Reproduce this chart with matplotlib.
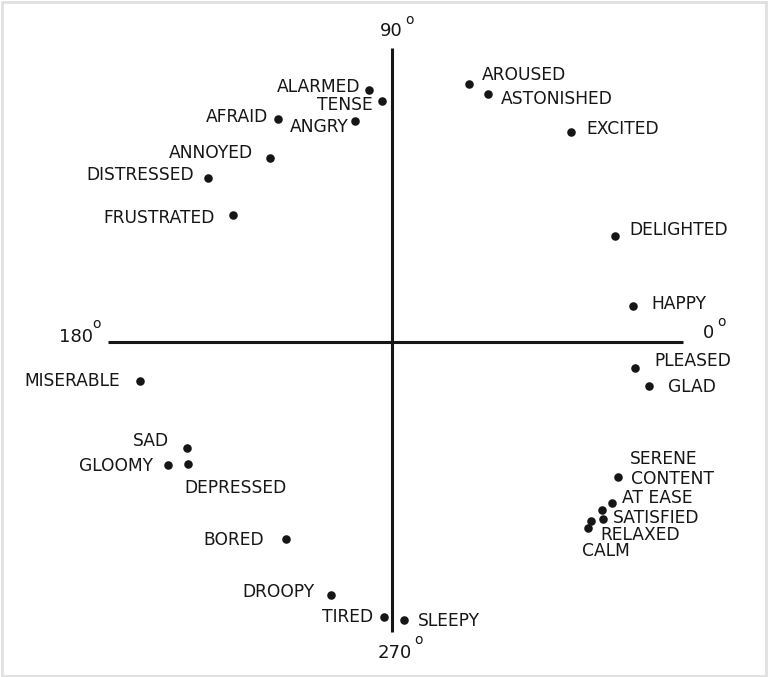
import matplotlib
matplotlib.use("Agg")
import matplotlib.pyplot as plt
from matplotlib.patches import Rectangle

# ================= data: affect words on the pleasure / arousal plane =================
words = ['ALARMED', 'TENSE', 'AFRAID', 'ANGRY', 'ANNOYED', 'DISTRESSED', 'FRUSTRATED',
         'AROUSED', 'ASTONISHED', 'EXCITED', 'DELIGHTED', 'HAPPY', 'PLEASED', 'GLAD',
         'SERENE', 'CONTENT', 'AT EASE', 'SATISFIED', 'RELAXED', 'CALM',
         'MISERABLE', 'SAD', 'GLOOMY', 'DEPRESSED', 'BORED', 'DROOPY', 'TIRED', 'SLEEPY']
pleasure = [-0.079, -0.034, -0.393, -0.128, -0.421, -0.634, -0.548,
            0.266, 0.331, 0.617, 0.769, 0.831, 0.838, 0.886,
            0.780, 0.759, 0.724, 0.726, 0.686, 0.677,
            -0.869, -0.707, -0.772, -0.703, -0.366, -0.210, -0.028, 0.041]
arousal = [0.869, 0.831, 0.769, 0.762, 0.634, 0.566, 0.438,
           0.890, 0.855, 0.724, 0.366, 0.124, -0.090, -0.152,
           -0.465, -0.556, -0.579, -0.610, -0.616, -0.641,
           -0.134, -0.366, -0.424, -0.421, -0.679, -0.872, -0.948, -0.959]

angle_labels = ['0', '90', '180', '270']

# ================= layout =================
PX = 290.0           # pixels per data unit
OX, OY = 392, 342    # origin in pixels
W, H = 768, 677

# label offsets in pixels (dx, dy, ha)
offsets = {
    'ALARMED': (-9, 3, 'right'), 'TENSE': (-9, -4, 'right'), 'AFRAID': (-10, 2, 'right'),
    'ANGRY': (-6, -6, 'right'), 'ANNOYED': (-17, 5, 'right'), 'DISTRESSED': (-14, 3, 'right'),
    'FRUSTRATED': (-18, -3, 'right'), 'AROUSED': (13, 9, 'left'), 'ASTONISHED': (13, -5, 'left'),
    'EXCITED': (15, 3, 'left'), 'DELIGHTED': (14, 6, 'left'), 'HAPPY': (18, 2, 'left'),
    'PLEASED': (19, 7, 'left'), 'GLAD': (19, -1, 'left'), 'SERENE': (12, 18, 'left'),
    'CONTENT': (19, 24, 'left'), 'AT EASE': (20, 12, 'left'), 'SATISFIED': (10, 1, 'left'),
    'RELAXED': (9, -14, 'left'), 'CALM': (-6, -23, 'left'), 'MISERABLE': (-20, 0, 'right'),
    'SAD': (-18, 7, 'right'), 'GLOOMY': (-15, -1, 'right'), 'DEPRESSED': (-4, -24, 'left'),
    'BORED': (-22, -1, 'right'), 'DROOPY': (-17, 3, 'right'), 'TIRED': (-11, 0, 'right'),
    'SLEEPY': (14, -1, 'left'),
}

# angle label positions (number centre, degree mark centre), in pixels
angle_pos = {
    '0': ((709, 333), (721, 322)),
    '90': ((391, 31), (409, 20)),
    '180': ((76, 337), (96, 324)),
    '270': ((395, 653), (418, 640)),
}


def to_data(px, py):
    return (px - OX) / PX, (OY - py) / PX


fig = plt.figure(figsize=(W / 100, H / 100), dpi=100)
ax = fig.add_axes([0, 0, 1, 1])
ax.set_xlim(to_data(0, 0)[0], to_data(W, 0)[0])
ax.set_ylim(to_data(0, H)[1], to_data(0, 0)[1])
ax.axis('off')

ink = '#161616'
FONT = 'DejaVu Sans'

# axes cross
x0, _ = to_data(108, 0)
x1, _ = to_data(683, 0)
_, y0 = to_data(0, 632)
_, y1 = to_data(0, 48)
ax.plot([x0, x1], [0, 0], color=ink, lw=2.2, solid_capstyle='butt')
ax.plot([0, 0], [y0, y1], color=ink, lw=2.2, solid_capstyle='butt')

# points + labels
ax.scatter(pleasure, arousal, s=38, color=ink, zorder=3, linewidths=0)
for w, x, y in zip(words, pleasure, arousal):
    dx, dy, ha = offsets[w]
    ax.annotate(w, (x, y), xytext=(dx, dy), textcoords='offset pixels',
                ha=ha, va='center', fontsize=12.3, color=ink, family=FONT)

# degree labels
for lab in angle_labels:
    (nx, ny), (ox, oy) = angle_pos[lab]
    ax.text(*to_data(nx, ny), lab, ha='center', va='center', fontsize=13,
            color=ink, family=FONT)
    ax.text(*to_data(ox, oy), 'o', ha='center', va='center', fontsize=10,
            color=ink, family=FONT)

# light frame around the picture
fig.patches.append(Rectangle((0.002, 0.002), 0.996, 0.995, transform=fig.transFigure,
                             fill=False, edgecolor='#e0e0e0', lw=2))

fig.savefig('out.png', dpi=100, facecolor='white')
